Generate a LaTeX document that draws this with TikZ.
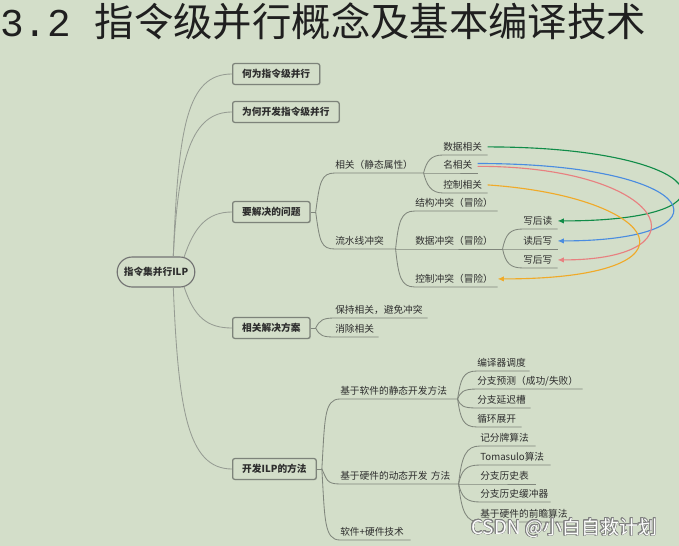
\documentclass[tikz,border=0pt]{standalone}
\usepackage{fontspec}
\setmainfont{Noto Sans CJK SC}
\newfontfamily\monofam{Liberation Mono}
\usepackage{tikz}
\usepackage{contour}
\contourlength{0.4pt}
\usetikzlibrary{arrows.meta, shapes.misc, shadows}

\definecolor{bgcol}{RGB}{211,222,201}
\definecolor{linecol}{RGB}{128,134,124}
\definecolor{branchcol}{RGB}{150,156,147}
\definecolor{boxline}{RGB}{125,131,122}
\definecolor{txt}{RGB}{45,45,45}
\definecolor{greenarr}{RGB}{16,140,72}
\definecolor{bluearr}{RGB}{74,140,224}
\definecolor{pinkarr}{RGB}{232,128,128}
\definecolor{orangearr}{RGB}{240,170,40}

\begin{document}
\begin{tikzpicture}[x=0.025cm, y=-0.025cm,
    topic/.style={draw=boxline, line width=0.9pt, rounded corners=1.5pt, fill=bgcol,
        anchor=west, inner xsep=0.24cm, minimum height=0.52cm, text=txt,
        font=\fontsize{6.9}{8}\selectfont\bfseries,
        drop shadow={shadow xshift=0.6pt, shadow yshift=-0.6pt, opacity=0.25}},
    sub/.style={anchor=south west, inner xsep=0pt, inner ysep=2pt, align=left,
        text height=5.9pt, text depth=1.2pt, text=txt,
        font=\fontsize{6.9}{8}\selectfont},
    link/.style={draw=linecol, line width=0.6pt},
    branch/.style={draw=branchcol, line width=0.6pt},
    dep/.style={line width=0.8pt, -{Latex[length=4.5pt,width=3.8pt]}}]

    \fill[bgcol] (0,0) rectangle (679,546);
    \useasboundingbox (0,0) rectangle (679,546);

    % title
    \node[anchor=base west, inner sep=0pt, text=black!88,
        font=\fontsize{28}{30}\selectfont] (title) at (0,36) {{\monofam 3.2 }指令级并行概念及基本编译技术};

    % root and main topics
    \node[draw=black!55, line width=0.8pt, rounded rectangle, fill=bgcol, text=txt,
        minimum width=2.175cm, minimum height=0.75cm,
        font=\fontsize{6.9}{8}\selectfont\bfseries] (ilp) at (156,272) {指令集并行ILP};

    \node[topic] (why) at (232,74) {何为指令级并行};
    \node[topic] (how) at (232,112) {为何开发指令级并行};
    \node[topic] (prob) at (232,212) {要解决的问题};
    \node[topic] (sol) at (232,328) {相关解决方案};
    \node[topic] (meth) at (232,469) {开发ILP的方法};

    \draw[branch] (ilp.42) .. controls +(5,-130) and +(-45,0) .. (why.west);
    \draw[branch] (ilp.42) .. controls +(5,-100) and +(-40,0) .. (how.west);
    \draw[branch] (ilp.28) .. controls +(10,-30) and +(-25,0) .. (prob.west);
    \draw[branch] (ilp.-28) .. controls +(10,30) and +(-25,0) .. (sol.west);
    \draw[branch] (ilp.-42) .. controls +(5,120) and +(-45,0) .. (meth.west);

    % problems to solve
    \node[sub, text width=2.2cm] (rel) at (335,173) {相关（静态属性）};
    \node[sub, text width=1.5cm] (pipe) at (335,249) {流水线冲突};
    \node[sub, text width=1.1cm] (dd) at (443,155) {数据相关};
    \node[sub, text width=0.85cm] (nd) at (443,173) {名相关};
    \node[sub, text width=1.1cm] (cd) at (443,193) {控制相关};
    \node[sub, text width=2.05cm] (st) at (415,211) {结构冲突（冒险）};
    \node[sub, text width=2.175cm] (dh) at (415,249) {数据冲突（冒险）};
    \node[sub, text width=2.05cm] (ch) at (415,287) {控制冲突（冒险）};
    \node[sub, text width=0.85cm] (raw) at (523,229) {写后读};
    \node[sub, text width=0.85cm] (war) at (523,249) {读后写};
    \node[sub, text width=0.85cm] (waw) at (523,268) {写后写};

    \draw[link] (prob.east) -- ++(5,0) coordinate (probx);
    \draw[link] (probx) .. controls +(4,-30) and +(-14,0) .. (rel.south west) -- (rel.south east);
    \draw[link] (probx) .. controls +(4,30) and +(-14,0) .. (pipe.south west) -- (pipe.south east);

    \draw[link] (rel.south east) .. controls +(3,-12) and +(-12,0) .. (dd.south west) -- (dd.south east);
    \draw[link] (rel.south east) -- (nd.south west) -- (nd.south east);
    \draw[link] (rel.south east) .. controls +(3,12) and +(-12,0) .. (cd.south west) -- (cd.south east);

    \draw[link] (pipe.south east) .. controls +(3,-28) and +(-14,0) .. (st.south west) -- (st.south east);
    \draw[link] (pipe.south east) -- (dh.south west) -- (dh.south east);
    \draw[link] (pipe.south east) .. controls +(3,28) and +(-14,0) .. (ch.south west) -- (ch.south east);

    \draw[link] (dh.south east) .. controls +(3,-15) and +(-13,0) .. (raw.south west) -- (raw.south east);
    \draw[link] (dh.south east) -- (war.south west) -- (war.south east);
    \draw[link] (dh.south east) .. controls +(3,14) and +(-13,0) .. (waw.south west) -- (waw.south east);

    % which dependence gives which hazard
    \draw[dep, draw=greenarr] (dd.east) .. controls +(220,0) and +(195,0) .. (raw.east);
    \draw[dep, draw=bluearr] ([yshift=1pt]nd.east) .. controls +(230,0) and +(177,0) .. (war.east);
    \draw[dep, draw=pinkarr] ([yshift=-1pt]nd.east) .. controls +(190,0) and +(153,0) .. (waw.east);
    \draw[dep, draw=orangearr] (cd.east) .. controls +(175,12) and +(213,0) .. (ch.east);

    % solutions
    \node[sub, text width=2.3cm] (keep) at (335,318) {保持相关，避免冲突};
    \node[sub, text width=1.075cm] (elim) at (335,337) {消除相关};

    \draw[link] (sol.east) -- ++(5,0) coordinate (solx);
    \draw[link] (solx) .. controls +(4,-8) and +(-12,0) .. (keep.south west) -- (keep.south east);
    \draw[link] (solx) .. controls +(4,8) and +(-12,0) .. (elim.south west) -- (elim.south east);

    % methods
    \node[sub, text width=2.925cm] (sw) at (340,399) {基于软件的静态开发方法};
    \node[sub, text width=2.95cm] (hw) at (340,484) {基于硬件的动态开发 方法};
    \node[sub, text width=1.75cm] (both) at (340,540) {软件+硬件技术};

    \node[sub, text width=1.3cm] (c1) at (477,371) {编译器调度};
    \node[sub, text width=2.625cm] (c2) at (477,389) {分支预测（成功/失败）};
    \node[sub, text width=1.325cm] (c3) at (477,408) {分支延迟槽};
    \node[sub, text width=1.1cm] (c4) at (477,427) {循环展开};

    \node[sub, text width=1.375cm] (h1) at (480,446) {记分牌算法};
    \node[sub, text width=1.75cm] (h2) at (480,465) {Tomasulo算法};
    \node[sub, text width=1.375cm] (h3) at (480,484) {分支历史表};
    \node[sub, text width=1.75cm] (h4) at (480,502) {分支历史缓冲器};
    \node[sub, text width=2.25cm] (h5) at (480,522) {基于硬件的前瞻算法};

    \draw[link] (meth.east) -- ++(5,0) coordinate (methx);
    \draw[link] (methx) .. controls +(3,-50) and +(-16,0) .. (sw.south west) -- (sw.south east);
    \draw[link] (methx) .. controls +(5,10) and +(-14,0) .. (hw.south west) -- (hw.south east);
    \draw[link] (methx) .. controls +(3,50) and +(-16,0) .. (both.south west) -- (both.south east);

    \foreach \n/\dy in {c1/-20, c2/-7, c3/7, c4/20}
        \draw[link] (sw.south east) .. controls +(3,\dy) and +(-14,0) .. (\n.south west) -- (\n.south east);
    \foreach \n/\dy in {h1/-28, h2/-14, h4/13, h5/28}
        \draw[link] (hw.south east) .. controls +(3,\dy) and +(-14,0) .. (\n.south west) -- (\n.south east);
    \draw[link] (hw.south east) -- (h3.south west) -- (h3.south east);

    % watermark
    \node[anchor=west, inner sep=0pt, text=white!94!bgcol,
        font=\fontsize{13.5}{15}\selectfont] (mark) at (471,528) {\contour{black!50}{CSDN @小白自救计划}};

\end{tikzpicture}
\end{document}
